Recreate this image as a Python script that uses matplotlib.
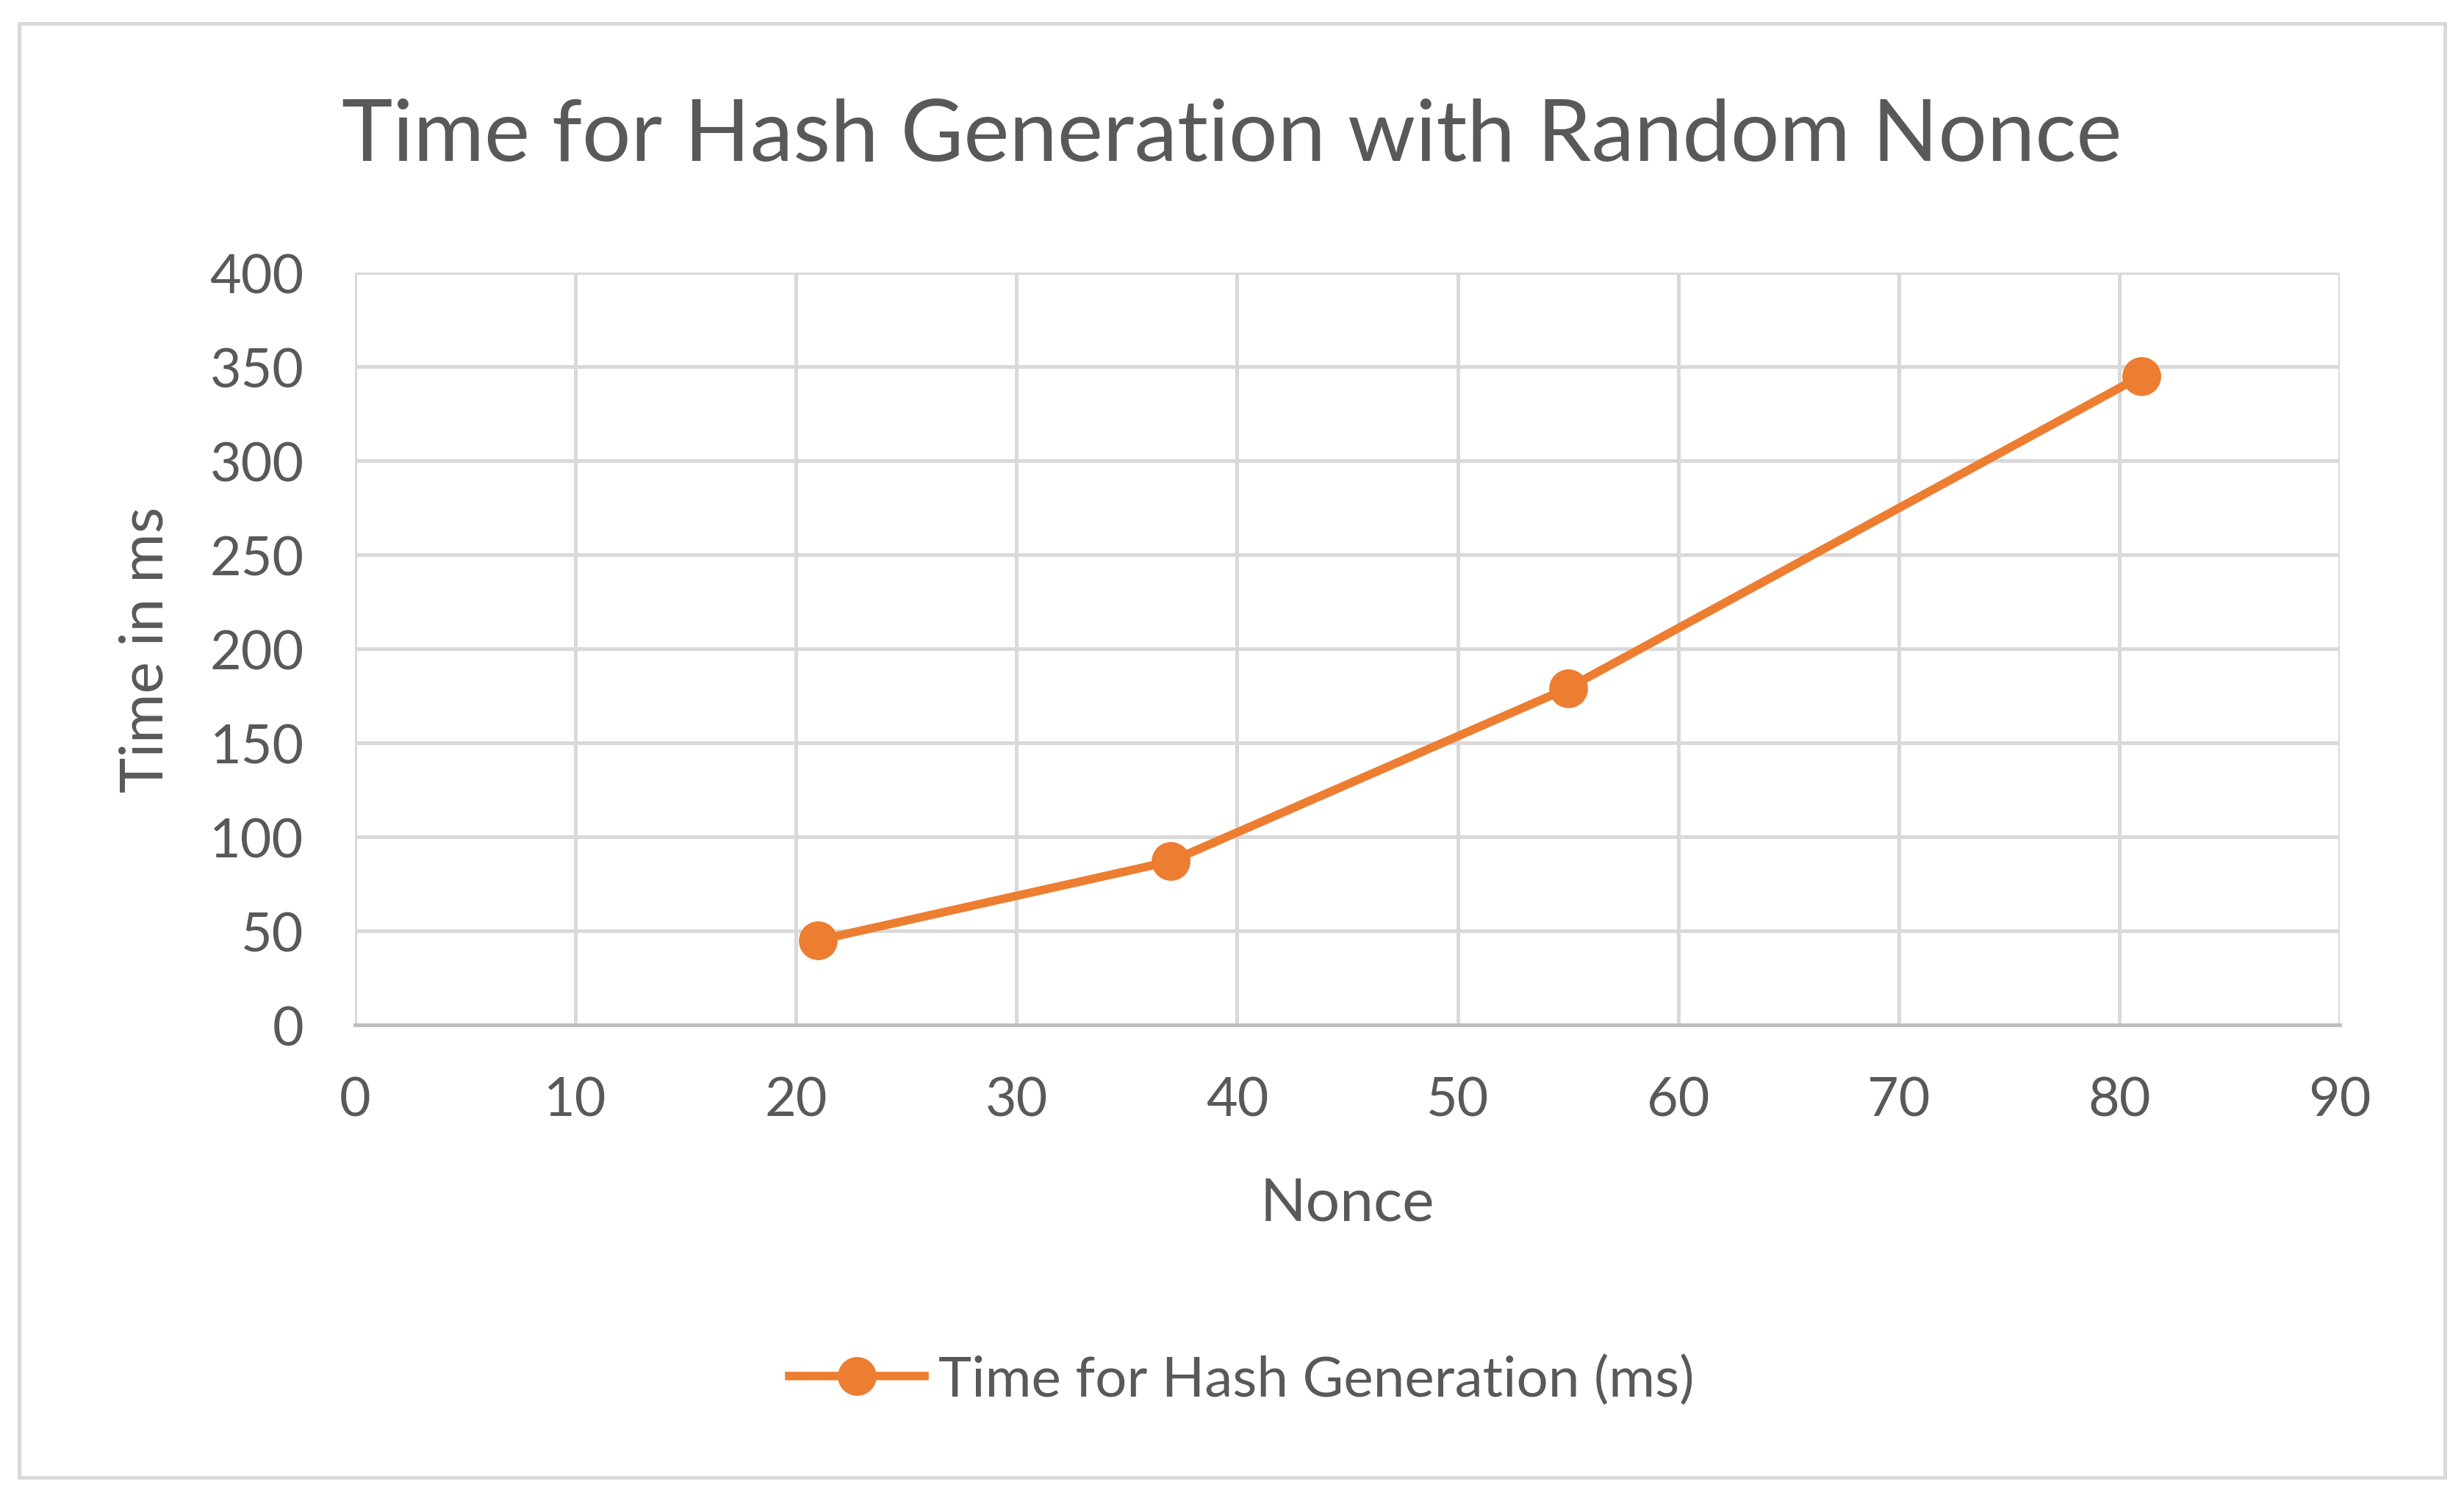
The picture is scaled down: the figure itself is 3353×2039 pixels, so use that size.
import matplotlib
matplotlib.use("Agg")
from matplotlib import pyplot as plt
from matplotlib.patches import Rectangle

# data
nonce = [21, 37, 55, 81]
time_ms = [45, 87, 179, 345]
x_ticks = [0, 10, 20, 30, 40, 50, 60, 70, 80, 90]
y_ticks = [0, 50, 100, 150, 200, 250, 300, 350, 400]

orange = '#ED7D31'
grid_col = '#D9D9D9'
text_col = '#595959'

plt.rcParams['font.family'] = ['Lato', 'DejaVu Sans']

W, H, DPI = 3353, 2040, 100
fig = plt.figure(figsize=(W / DPI, H / DPI), dpi=DPI)

# chart outer border
fig.patches.append(Rectangle((26 / W, 1 - 2012 / H), (3327 - 26) / W, (2012 - 33) / H,
                             transform=fig.transFigure, fill=False,
                             edgecolor=grid_col, linewidth=3.6))

ax = fig.add_axes([483 / W, 1 - 1396 / H, (3184 - 483) / W, (1396 - 372) / H])
ax.plot(nonce, time_ms, '-o', color=orange, linewidth=8.3, markersize=37,
        label='Time for Hash Generation (ms)', zorder=3)

ax.set_xlim(0, 90)
ax.set_ylim(0, 400)
ax.set_xticks(x_ticks)
ax.set_yticks(y_ticks)
ax.grid(True, color=grid_col, linewidth=3.6)
ax.set_axisbelow(True)
for side in ['top', 'right', 'left']:
    ax.spines[side].set_visible(False)
ax.spines['bottom'].set_color('#BFBFBF')
ax.spines['bottom'].set_linewidth(3.6)
ax.tick_params(length=0, labelsize=53, labelcolor=text_col, pad=50)

ax.set_xlabel('Nonce', fontsize=59, color=text_col, labelpad=50)
ax.set_ylabel('Time in ms', fontsize=59, color=text_col, labelpad=36)

fig.text(0.5, 1 - 186 / H, 'Time for Hash Generation with Random Nonce',
         ha='center', va='center', fontsize=84.5, color=text_col)

fig.legend(loc='center', bbox_to_anchor=(1690 / W, 1 - 1879 / H), frameon=False,
           fontsize=55, labelcolor=text_col, handlelength=2.4, handletextpad=0.25)

fig.savefig('out.png', dpi=DPI, facecolor='white')
